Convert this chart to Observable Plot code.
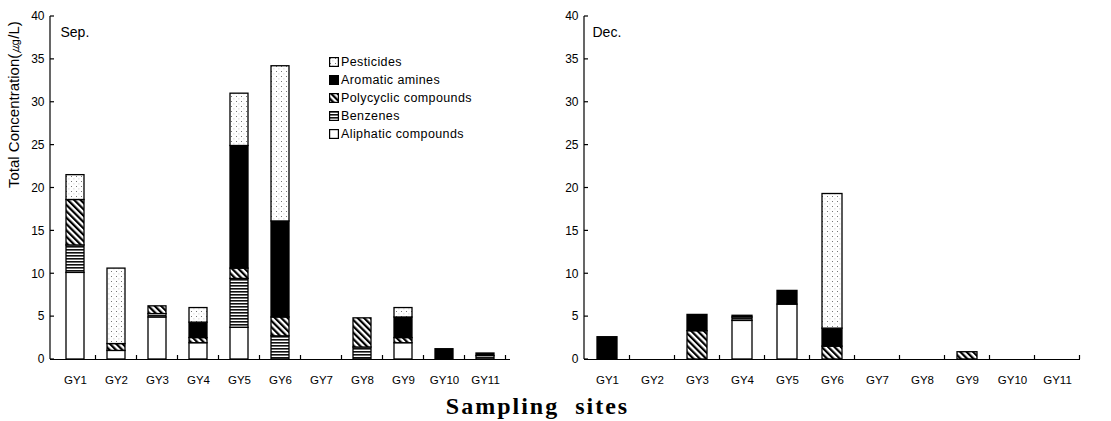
<!DOCTYPE html>
<html>
<head>
<meta charset="utf-8">
<script src="https://cdn.jsdelivr.net/npm/d3@7"></script>
<script src="https://cdn.jsdelivr.net/npm/@observablehq/plot@0.6"></script>
<style>
  body { margin: 0; background: #fff; }
  #wrap { position: relative; width: 1111px; height: 421px; background: #fff; overflow: hidden; font-family: "Liberation Sans", Arial, sans-serif; }
  #left { position: absolute; left: 0; top: 0; }
  #right { position: absolute; left: 556px; top: 0; }
  #legend { position: absolute; left: 329px; top: 53px; font-size: 12.5px; letter-spacing: 0.4px; color: #000; }
  #legend .row { height: 18px; line-height: 18px; display: flex; align-items: center; white-space: nowrap; }
  #legend svg { margin-right: 2px; }
  #xtitle { position: absolute; top: 393px; left: -18px; width: 1111px; text-align: center; font-family: "Liberation Serif", "Times New Roman", serif; font-weight: bold; font-size: 24px; letter-spacing: 2px; word-spacing: 8px; color: #000; }
</style>
</head>
<body>
<svg width="0" height="0" style="position:absolute">
  <defs>
    <pattern id="pDots" width="5" height="5" patternUnits="userSpaceOnUse">
      <rect width="5" height="5" fill="#fff"/>
      <rect x="1" y="1" width="1" height="1" fill="#777"/>
      <rect x="3.5" y="3.5" width="0.8" height="0.8" fill="#aaa"/>
    </pattern>
    <pattern id="pDiag" width="4.5" height="4.5" patternUnits="userSpaceOnUse" patternTransform="rotate(-45)">
      <rect width="4.5" height="4.5" fill="#fff"/>
      <rect x="0" y="0" width="2.2" height="4.5" fill="#000"/>
    </pattern>
    <pattern id="pHoriz" width="4" height="3" patternUnits="userSpaceOnUse">
      <rect width="4" height="3" fill="#fff"/>
      <rect x="0" y="0" width="4" height="1.6" fill="#111"/>
    </pattern>
  </defs>
</svg>
<div id="wrap">
  <div id="left"></div>
  <div id="right"></div>
  <div id="legend"></div>
  <div id="xtitle">Sampling sites</div>
</div>
<script>
// ---- data ----
const sites = ["GY1", "GY2", "GY3", "GY4", "GY5", "GY6", "GY7", "GY8", "GY9", "GY10", "GY11"];
const categories = ["Aliphatic compounds", "Benzenes", "Polycyclic compounds", "Aromatic amines", "Pesticides"];
const legendOrder = ["Pesticides", "Aromatic amines", "Polycyclic compounds", "Benzenes", "Aliphatic compounds"];
const yTicks = [0, 5, 10, 15, 20, 25, 30, 35, 40];

// September (stack bottom -> top)
const sepAliphatic  = [10.1, 1.0, 4.9, 1.9, 3.7, 0,    0, 0,   1.9, 0,   0];
const sepBenzenes   = [3.2,  0,   0.4, 0,   5.7, 2.7,  0, 1.4, 0,   0,   0.4];
const sepPolycyclic = [5.3,  0.8, 0.9, 0.6, 1.2, 2.2,  0, 3.4, 0.6, 0,   0];
const sepAromatic   = [0,    0,   0,   1.8, 14.3, 11.2, 0, 0,  2.4, 1.2, 0.3];
const sepPesticides = [2.9,  8.8, 0,   1.7, 6.1, 18.1, 0, 0,   1.1, 0,   0];

// December
const decAliphatic  = [0,   0, 0,   4.5, 6.4, 0,    0, 0, 0,    0, 0];
const decBenzenes   = [0,   0, 0,   0.4, 0,   0,    0, 0, 0,    0, 0];
const decPolycyclic = [0,   0, 3.3, 0,   0,   1.5,  0, 0, 0.85, 0, 0];
const decAromatic   = [2.6, 0, 1.9, 0.2, 1.6, 2.1,  0, 0, 0,    0, 0];
const decPesticides = [0,   0, 0,   0,   0,   15.7, 0, 0, 0,    0, 0];

const fills = {
  "Aliphatic compounds": "#ffffff",
  "Benzenes": "url(#pHoriz)",
  "Polycyclic compounds": "url(#pDiag)",
  "Aromatic amines": "#000000",
  "Pesticides": "url(#pDots)"
};

function toRows(series) {
  const rows = [];
  sites.forEach((s, i) => {
    categories.forEach((c, k) => rows.push({site: s, category: c, value: series[k][i]}));
  });
  return rows;
}
const sepData = toRows([sepAliphatic, sepBenzenes, sepPolycyclic, sepAromatic, sepPesticides]);
const decData = toRows([decAliphatic, decBenzenes, decPolycyclic, decAromatic, decPesticides]);

function decor(index, scales, values, dims) {
  const g = d3.create("svg:g").attr("stroke", "#000").attr("stroke-width", 1.2).attr("fill", "none");
  const x0 = dims.marginLeft;
  const yb = dims.height - dims.marginBottom;
  g.append("line").attr("x1", x0).attr("x2", x0).attr("y1", dims.marginTop).attr("y2", yb);
  for (const t of yTicks) {
    const y = scales.y(t);
    g.append("line").attr("x1", x0).attr("x2", x0 + 4).attr("y1", y).attr("y2", y);
  }
  const bw = scales.x.bandwidth ? scales.x.bandwidth() : 0;
  const step = scales.x.step ? scales.x.step() : 0;
  for (const s of sites) {
    const xb = scales.x(s) + bw / 2 + step / 2;
    g.append("line").attr("x1", xb).attr("x2", xb).attr("y1", yb).attr("y2", yb - 4);
  }
  return g.node();
}

function panel(data, title, opts) {
  return Plot.plot({
    width: opts.width,
    height: 389,
    marginLeft: opts.marginLeft,
    marginRight: opts.marginRight,
    marginTop: 16,
    marginBottom: 30,
    style: {fontFamily: "'Liberation Sans', Arial, sans-serif", fontSize: "12px", background: "#fff", color: "#000", overflow: "visible"},
    x: {domain: sites, paddingInner: 0.56, paddingOuter: 0.28, label: null},
    y: {domain: [0, 40], label: null},
    color: {domain: categories, range: categories.map(c => fills[c])},
    marks: [
      Plot.barY(data, {x: "site", y: "value", fill: "category", stroke: "#000", strokeWidth: 1.3, filter: d => d.value > 0}),
      Plot.ruleY([0], {stroke: "#000", strokeWidth: 1.2}),
      Plot.axisY({ticks: yTicks, tickSize: 0, tickPadding: 6, label: null, fontSize: 12}),
      Plot.axisX({tickSize: 0, tickPadding: 16, label: null, fontSize: 11.5}),
      decor,
      Plot.text([title], {frameAnchor: "top-left", dx: opts.titleDx, dy: 11, fontSize: 14, text: d => d}),
      ...(opts.ylabel ? [Plot.text([opts.ylabel], {frameAnchor: "left", rotate: -90, dx: -36, fontSize: 15, text: d => d})] : [])
    ]
  });
}

document.getElementById("left").append(panel(sepData, "Sep.", {width: 555, marginLeft: 50, marginRight: 45, titleDx: 10, ylabel: "Total Concentration(㎍/L)"}));
document.getElementById("right").append(panel(decData, "Dec.", {width: 555, marginLeft: 28, marginRight: 31, titleDx: 8}));

// legend
const leg = document.getElementById("legend");
for (const c of legendOrder) {
  const row = document.createElement("div");
  row.className = "row";
  row.innerHTML = `<svg width="10" height="10"><rect x="0.6" y="0.6" width="8.8" height="8.8" fill="${fills[c]}" stroke="#000" stroke-width="1.2"/></svg><span>${c}</span>`;
  leg.append(row);
}
</script>
</body>
</html>
